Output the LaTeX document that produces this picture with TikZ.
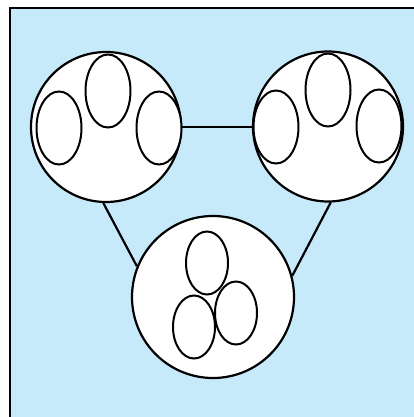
\documentclass[tikz,border=0pt]{standalone}
\usetikzlibrary{shapes.geometric}
\definecolor{bgblue}{RGB}{199,234,250}
\tikzset{
  big/.style={circle, draw=black, fill=white, line width=2.2pt, inner sep=0pt},
  egg/.style={ellipse, draw=black, fill=white, line width=2pt, inner sep=0pt, minimum width=45pt, minimum height=73pt},
  smallegg/.style={ellipse, draw=black, fill=white, line width=2pt, inner sep=0pt, minimum width=42pt, minimum height=63pt},
  link/.style={line width=2.2pt}
}
\begin{document}
\begin{tikzpicture}[x=1pt,y=-1pt]
\useasboundingbox (0,0) rectangle (414,417);
\draw[fill=bgblue, line width=2.2pt] (10,8) rectangle (430,430);
% left cluster
\node[big, minimum size=150pt] (L) at (106,127) {};
\node[egg] (L1) at (59,128) {};
\node[egg] (L2) at (108,91) {};
\node[egg] (L3) at (159,128) {};
% right cluster
\node[big, minimum size=150pt] (R) at (328,126.5) {};
\node[egg] (R1) at (276,127) {};
\node[egg] (R2) at (328,90) {};
\node[egg] (R3) at (379,126) {};
% bottom cluster
\node[big, minimum size=162pt] (B) at (213,297) {};
\node[smallegg] (B1) at (207,263) {};
\node[smallegg] (B3) at (236,313) {};
\node[smallegg] (B2) at (194,327) {};
% links
\draw[link] (L.east) -- (L.east -| R.west);
\draw[link] (L.268) -- (B.158);
\draw[link] (R.272) -- (B.15);
\end{tikzpicture}
\end{document}
